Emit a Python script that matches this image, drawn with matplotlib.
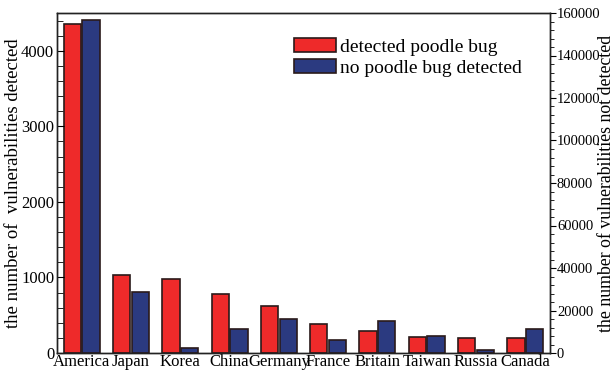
import numpy as np
import matplotlib
matplotlib.use('Agg')
import matplotlib.pyplot as plt
from matplotlib.ticker import MultipleLocator

countries = ['America', 'Japan', 'Korea', 'China', 'Germany',
             'France', 'Britain', 'Taiwan', 'Russia', 'Canada']
# left axis: vulnerabilities detected (poodle bug)
detected = [4357, 1028, 975, 776, 622, 384, 291, 212, 199, 199]
# right axis: vulnerabilities not detected
not_detected = [156500, 28700, 2350, 11100, 16000, 6100, 15060, 8150, 1550, 11100]

plt.rcParams['font.family'] = ['Liberation Serif', 'DejaVu Serif']

red = '#EE2A2A'
blue = '#2B3A80'
edge = '#2a1a1a'

fig = plt.figure(figsize=(6.15, 3.75), dpi=100)
ax = fig.add_axes([57/615, 1-353/375, (550-57)/615, (353-13)/375])
ax2 = ax.twinx()

x = np.arange(len(countries))
w = 0.35
b1 = ax.bar(x - 0.19, detected, w, color=red, edgecolor=edge, linewidth=1.2,
            label='detected poodle bug')
b2 = ax2.bar(x + 0.19, not_detected, w, color=blue, edgecolor=edge, linewidth=1.2,
             label='no poodle bug detected')

ax.set_xlim(-0.5, 9.5)
ax.set_ylim(0, 4500)
ax2.set_ylim(0, 160000)

ax.set_xticks(x)
ax.set_xticklabels(countries, fontsize=12)
ax.tick_params(axis='x', length=0, pad=1)

ax.yaxis.set_major_locator(MultipleLocator(1000))
ax.yaxis.set_minor_locator(MultipleLocator(200))
ax.tick_params(axis='y', which='both', direction='in', labelsize=12, pad=2)
ax.tick_params(axis='y', which='major', length=5)
ax.tick_params(axis='y', which='minor', length=4)

ax2.yaxis.set_major_locator(MultipleLocator(20000))
ax2.yaxis.set_minor_locator(MultipleLocator(4000))
ax2.tick_params(axis='y', which='both', direction='out', labelsize=10.5, pad=1)
ax2.tick_params(axis='y', which='major', length=4)
ax2.tick_params(axis='y', which='minor', length=3)

ax.set_ylabel('the number of  vulnerabilities detected', fontsize=13.5)
ax2.set_ylabel('the number of vulnerabilities not detected', fontsize=12.8)
ax.yaxis.set_label_coords(-0.07, 0.5)
ax2.yaxis.set_label_coords(1.098, 0.5)

for a in (ax, ax2):
    for s in a.spines.values():
        s.set_color('#222222')
        s.set_linewidth(1.0)

ax2.legend([b1, b2], ['detected poodle bug', 'no poodle bug detected'],
           loc='upper left', bbox_to_anchor=(0.46, 0.955), frameon=False,
           borderpad=0, fontsize=14, handlelength=2.2, handleheight=0.75,
           handletextpad=0.2, labelspacing=0.15)

fig.savefig('out.png', dpi=100)
